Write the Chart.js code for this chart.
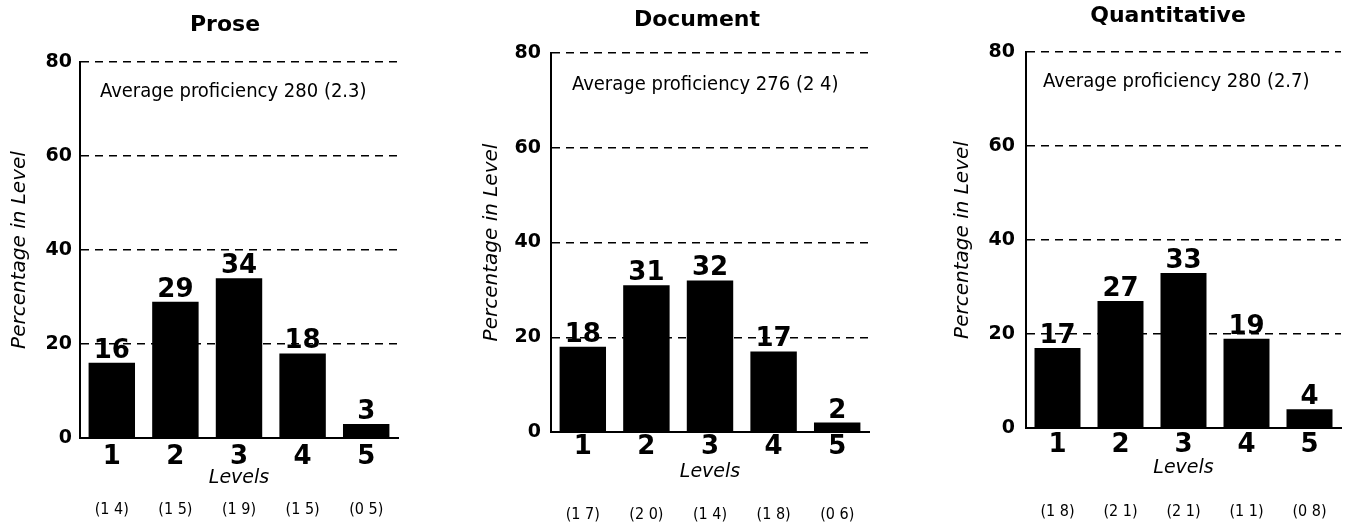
<!DOCTYPE html>
<html>
<head>
<meta charset="utf-8">
<script src="https://cdn.jsdelivr.net/npm/chart.js@4"></script>
<style>
  html, body { margin: 0; padding: 0; background: #fff; }
  #wrap { position: relative; width: 1346px; height: 523px; overflow: hidden; background: #fff; }
  #wrap canvas { position: absolute; top: 0; }
</style>
</head>
<body>
<div id="wrap">
  <canvas id="c-prose" width="449" height="523" style="left:0px"></canvas>
  <canvas id="c-document" width="448" height="523" style="left:449px"></canvas>
  <canvas id="c-quant" width="449" height="523" style="left:897px"></canvas>
</div>
<script>
// Levels and y-axis ticks shared by the three panels
const levels = ['1', '2', '3', '4', '5'];
const yTicks = [0, 20, 40, 60, 80];

// Percentage of adults at each level
const proseValues = [16, 29, 34, 18, 3];
const documentValues = [18, 31, 32, 17, 2];
const quantValues = [17, 27, 33, 19, 4];

// Standard errors shown beneath each level
const proseSE = ['(1 4)', '(1 5)', '(1 9)', '(1 5)', '(0 5)'];
const documentSE = ['(1 7)', '(2 0)', '(1 4)', '(1 8)', '(0 6)'];
const quantSE = ['(1 8)', '(2 1)', '(2 1)', '(1 1)', '(0 8)'];

// Panel headings and proficiency notes
const panelTitles = ['Prose', 'Document', 'Quantitative'];
const proficiencyNotes = [
  'Average proficiency 280 (2.3)',
  'Average proficiency 276 (2 4)',
  'Average proficiency 280 (2.7)'
];

const FONT = "'DejaVu Sans', 'Liberation Sans', sans-serif";
const NARROW = "'DejaVu Sans Condensed', 'DejaVu Sans', sans-serif";
Chart.defaults.font.family = FONT;
Chart.defaults.color = '#000';

// Geometry of each panel, in the panel canvas's own pixels
const panels = [
  { id: 'c-prose', values: proseValues, se: proseSE,
    area: { left: 80, right: 398, top: 62, bottom: 438 },
    yTitleX: 20, yTickPad: 8, tickCy: 457, levelsCy: 478, seCy: 510,
    titleX: 225, titleCy: 25, noteX: 100, noteBase: 97 },
  { id: 'c-document', values: documentValues, se: documentSE,
    area: { left: 102, right: 420, top: 53, bottom: 432 },
    yTitleX: 43, yTickPad: 10, tickCy: 447, levelsCy: 472, seCy: 515,
    titleX: 248, titleCy: 20, noteX: 123, noteBase: 90 },
  { id: 'c-quant', values: quantValues, se: quantSE,
    area: { left: 129, right: 444, top: 52, bottom: 428 },
    yTitleX: 66, yTickPad: 11, tickCy: 445, levelsCy: 468, seCy: 512,
    titleX: 271, titleCy: 16, noteX: 146, noteBase: 87 }
];

// Draws the value above each bar, the heading, the note and the standard-error row
const annotate = {
  id: 'annotate',
  afterDraw(chart, args, opts) {
    const ctx = chart.ctx;
    const p = opts.panel;
    const meta = chart.getDatasetMeta(0);
    const xs = chart.scales.x;
    ctx.save();
    ctx.fillStyle = '#000';

    ctx.font = 'bold 26px ' + FONT;
    ctx.textAlign = 'center';
    ctx.textBaseline = 'alphabetic';
    meta.data.forEach((bar, i) => {
      ctx.fillText(String(p.values[i]), bar.x, bar.y - 5);
    });

    ctx.font = 'bold 22px ' + FONT;
    ctx.textBaseline = 'middle';
    ctx.fillText(opts.title, p.titleX, p.titleCy);

    ctx.font = '20px ' + NARROW;
    ctx.textAlign = 'left';
    ctx.textBaseline = 'alphabetic';
    ctx.fillText(opts.note, p.noteX, p.noteBase);

    ctx.font = '16px ' + NARROW;
    ctx.textAlign = 'center';
    ctx.textBaseline = 'middle';
    p.se.forEach((s, i) => {
      ctx.fillText(s, xs.getPixelForValue(i), p.seCy);
    });
    ctx.restore();
  }
};

panels.forEach((p, k) => {
  const canvas = document.getElementById(p.id);
  const W = canvas.width, H = canvas.height;
  new Chart(canvas, {
    type: 'bar',
    data: {
      labels: levels,
      datasets: [{
        data: p.values,
        backgroundColor: '#000',
        borderWidth: 0,
        barPercentage: 0.73,
        categoryPercentage: 1.0
      }]
    },
    options: {
      responsive: false,
      animation: false,
      devicePixelRatio: 1,
      layout: { padding: { left: 0, top: p.area.top, right: W - p.area.right, bottom: 0 } },
      plugins: {
        legend: { display: false },
        tooltip: { enabled: false },
        title: { display: false },
        annotate: { panel: p, title: panelTitles[k], note: proficiencyNotes[k] }
      },
      scales: {
        x: {
          offset: true,
          grid: { display: false, drawTicks: false },
          border: { display: true, color: '#000', width: 2 },
          ticks: {
            font: { size: 26, weight: 'bold', lineHeight: 1 },
            color: '#000',
            padding: p.tickCy - p.area.bottom - 13,
            maxRotation: 0
          },
          title: {
            display: true,
            text: 'Levels',
            color: '#000',
            font: { size: 19, style: 'italic', lineHeight: 1 },
            padding: { top: 0, bottom: H - p.levelsCy - 9.5 }
          },
          afterFit(scale) { scale.height = H - p.area.bottom; }
        },
        y: {
          min: yTicks[0],
          max: yTicks[yTicks.length - 1],
          afterBuildTicks(scale) { scale.ticks = yTicks.map(v => ({ value: v })); },
          grid: {
            drawTicks: false,
            color: c => (c.tick && c.tick.value === 0 ? 'rgba(0,0,0,0)' : '#000'),
            lineWidth: 1.5
          },
          border: { display: true, color: '#000', width: 2, dash: [8, 6] },
          ticks: {
            font: { size: 19, weight: 'bold' },
            color: '#000',
            padding: p.yTickPad
          },
          title: {
            display: true,
            text: 'Percentage in Level',
            color: '#000',
            font: { size: 20, style: 'italic', lineHeight: 1 },
            padding: { top: p.yTitleX - 10, bottom: 0 }
          },
          afterFit(scale) { scale.width = p.area.left; }
        }
      }
    },
    plugins: [annotate]
  });
});
</script>
</body>
</html>
